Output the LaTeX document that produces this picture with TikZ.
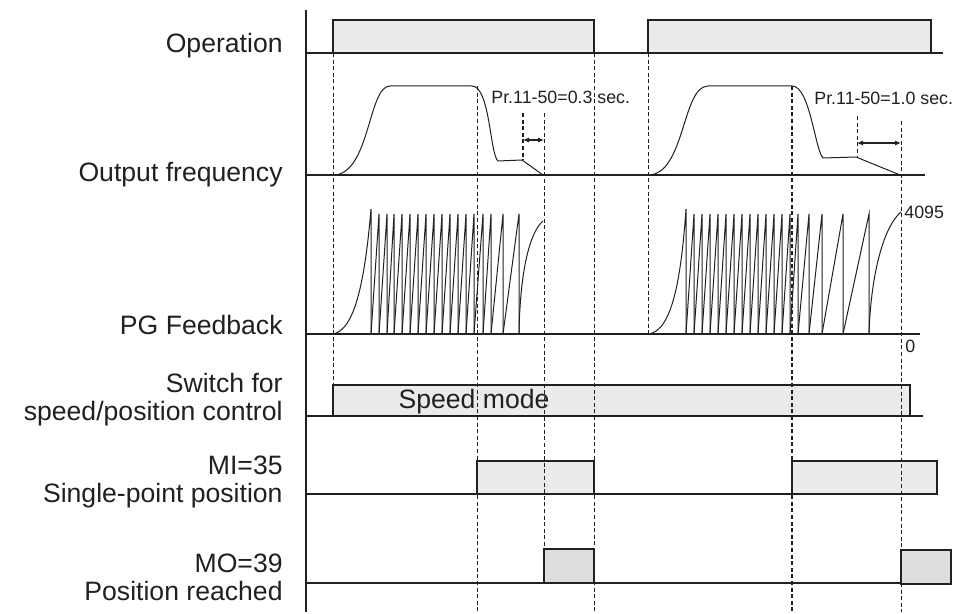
\documentclass[tikz,border=0pt]{standalone}
\usepackage{fontspec}
\setmainfont{Liberation Sans}
\usetikzlibrary{arrows.meta}

\definecolor{ink}{HTML}{231F20}
\definecolor{boxgray}{HTML}{EBEBEB}
\definecolor{mogray}{HTML}{DCDDDD}

\tikzset{
  lbl/.style={anchor=east, align=right, inner sep=0pt, text=ink,
    font=\fontsize{13.3}{14}\selectfont},
  note/.style={anchor=west, inner sep=0pt, text=ink,
    font=\fontsize{8.9}{10}\selectfont},
  base/.style={draw=ink, line width=0.75pt},
  wave/.style={draw=ink, line width=0.5pt},
  guide/.style={draw=ink, line width=0.5pt, dash pattern=on 2pt off 1.3pt},
  guidebold/.style={draw=ink, line width=1.1pt, dash pattern=on 2pt off 1.3pt},
  pulse/.style={draw=ink, line width=0.6pt, fill=boxgray},
  done/.style={draw=ink, line width=0.6pt, fill=mogray},
  span/.style={draw=ink, line width=0.6pt,
    {Latex[length=3pt,width=2.6pt]}-{Latex[length=3pt,width=2.6pt]}},
}

\begin{document}
\begin{tikzpicture}[x=0.5pt, y=-0.5pt]
    \useasboundingbox (0,0) rectangle (957,614);

                % Signal boxes
                \draw[pulse] (333,53) rectangle (594,20);
                \draw[pulse] (648,53) rectangle (931,20);
                \draw[pulse] (333,416) rectangle (910,385);
                \draw[pulse] (477,494) rectangle (594,461);
                \draw[pulse] (792,494) rectangle (937,461);
                \draw[done] (544,583) rectangle (594,549);
                \draw[done] (901,584) rectangle (951,550);

                % Time markers
                \draw[guide] (333,53) -- (333,385);
                \draw[guide] (477,86) -- (477,612);
                \draw[guidebold] (523,113) -- (523,160);
                \draw[guide] (544,113) -- (544,549);
                \draw[guide] (594,53) -- (594,612);
                \draw[guide] (648,53) -- (648,334);
                \draw[guidebold] (792,86) -- (792,612);
                \draw[guide] (857,116) -- (857,157);
                \draw[guide] (901,121) -- (901,612);

                % Axis and base lines
                \draw[base] (306,10) -- (306,612);
                \draw[base] (306,53) -- (943,53);
                \draw[base] (306,175) -- (925,175);
                \draw[base] (306,334) -- (920,334);
                \draw[base] (306,416) -- (923,416);
                \draw[base] (306,494) -- (920,494);
                \draw[base] (306,583) -- (901,583);

                % Output frequency
                \draw[wave] (333,175) .. controls (370,175) and (368,86) .. (390,86)
                    -- (472,86) .. controls (490,86) and (490,155) .. (498,161)
                    -- (522,160) -- (543,175);
                \draw[wave] (648,175) .. controls (685,175) and (682,86) .. (708,86)
                    -- (792,86) .. controls (810,86) and (815,150) .. (823,158)
                    -- (856,157) -- (900,175);

                % PG feedback
                \draw[wave] (333,334) .. controls (355,330) and (365,280) .. (371,209) -- (371,334);
                \foreach \a/\b in {371/379, 379/387, 387/394, 394/402, 402/410, 410/418,
                    418/426, 426/434, 434/442, 442/450, 450/458, 458/466, 466/474,
                    474/483, 483/491, 491/503, 503/519}
                    \draw[wave] (\a,334) -- (\b,214) -- (\b,334);
                \draw[wave] (519,334) .. controls (520,270) and (530,232) .. (543,221);

                \draw[wave] (649,334) .. controls (672,330) and (681,280) .. (686,209) -- (686,334);
                \foreach \a/\b in {686/694, 694/702, 702/710, 710/718, 718/726, 726/734,
                    734/742, 742/750, 750/758, 758/766, 766/774, 774/782, 782/790,
                    790/798, 798/809, 809/822, 822/843, 843/869}
                    \draw[wave] (\a,334) -- (\b,214) -- (\b,334);
                \draw[wave] (869,334) .. controls (871,270) and (885,225) .. (901,212);

                % Delay spans
                \coordinate (d1a) at (523,140);
                \coordinate (d1b) at (544,140);
                \coordinate (d2a) at (857,143);
                \coordinate (d2b) at (901,143);
                \draw[span] (d1a) -- (d1b);
                \draw[span] (d2a) -- (d2b);

                % Labels
                \node[lbl] (op) at (283,46) {Operation};
                \node[lbl] (freq) at (283,175) {Output frequency};
                \node[lbl] (pg) at (283,325) {PG Feedback};
                \node[lbl] (sw) at (283,400) {Switch for\\speed/position control};
                \node[lbl] (mi) at (283,482) {MI=35\\Single-point position};
                \node[lbl] (mo) at (283,577) {MO=39\\Position reached};
                \node[text=ink, inner sep=0pt, font=\fontsize{13.3}{14}\selectfont]
                    (speed) at (474,402) {Speed mode};

                \node[note] (pr1) at (491,97) {Pr.11-50=0.3 sec.};
                \node[note] (pr2) at (814,98) {Pr.11-50=1.0 sec.};
                \node[note] (top) at (904,212) {4095};
                \node[note] (zero) at (905,346) {0};

\end{tikzpicture}
\end{document}
